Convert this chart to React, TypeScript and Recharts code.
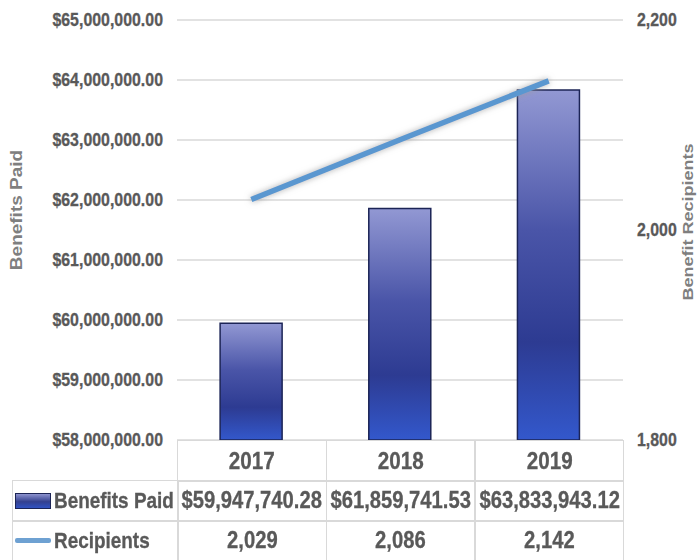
import React from "react";
import { ComposedChart, Bar, Line, XAxis, YAxis, CartesianGrid } from "recharts";

const years = ["2017", "2018", "2019"];
const benefitsPaid = [59947740.28, 61859741.53, 63833943.12];
const recipients = [2029, 2086, 2142];
const paidTicks = [58000000, 59000000, 60000000, 61000000, 62000000, 63000000, 64000000, 65000000];
const recipientTicks = [1800, 2000, 2200];

const W = 698;
const H = 560;
const PLOT_LEFT = 177;
const PLOT_RIGHT = 623;
const PLOT_TOP = 20;
const PLOT_BOTTOM = 440;
const COL_W = (PLOT_RIGHT - PLOT_LEFT) / years.length;

const TEXT = "#595959";
const GRID = "#d9d9d9";
const LINE = "#5a97d0";
const FONT = '"Liberation Sans", Arial, sans-serif';
const SQUEEZE = 0.86;

const money = (v: number) =>
  "$" + v.toLocaleString("en-US", { minimumFractionDigits: 2, maximumFractionDigits: 2 });
const count = (v: number) => v.toLocaleString("en-US");

const data = years.map((year, i) => ({ year, paid: benefitsPaid[i], recipients: recipients[i] }));

const TickText = ({ x, y, anchor, children }: any) => (
  <text
    transform={`translate(${x},${y}) scale(${SQUEEZE},1)`}
    textAnchor={anchor}
    dominantBaseline="central"
    fontFamily={FONT}
    fontWeight={700}
    fontSize={18.5}
    fill={TEXT}
    stroke={TEXT}
    strokeWidth={0.3}
  >
    {children}
  </text>
);

const LeftTick = (props: any) => (
  <TickText x={props.x} y={props.y} anchor="end">
    {money(props.payload.value)}
  </TickText>
);

const RightTick = (props: any) => (
  <TickText x={props.x} y={props.y} anchor="start">
    {count(props.payload.value)}
  </TickText>
);

const AxisTitle = ({ x, y, text, size = 19 }: { x: number; y: number; text: string; size?: number }) => (
  <text
    transform={`translate(${x},${y}) scale(${SQUEEZE},1) rotate(-90)`}
    textAnchor="middle"
    dominantBaseline="central"
    fontFamily={FONT}
    fontWeight={700}
    fontSize={size}
    fill="#7f7f7f"
  >
    {text}
  </text>
);

const Squeezed = ({ children, origin = "center", size = 23.5 }: any) => (
  <span
    style={{
      display: "inline-block",
      whiteSpace: "nowrap",
      fontSize: size,
      fontWeight: 700,
      WebkitTextStroke: `0.3px ${TEXT}`,
      transform: `scaleX(${SQUEEZE})`,
      transformOrigin: origin,
      flexShrink: 0,
    }}
  >
    {children}
  </span>
);

const cellBase: React.CSSProperties = {
  position: "absolute",
  boxSizing: "border-box",
  border: `1.5px solid ${GRID}`,
  display: "flex",
  alignItems: "center",
  justifyContent: "center",
  overflow: "visible",
};

const rows = [
  { label: "Benefits Paid", values: benefitsPaid.map(money), swatch: "bar" },
  { label: "Recipients", values: recipients.map(count), swatch: "line" },
];

const DataTable = () => (
  <div style={{ position: "absolute", left: 0, top: 0, fontFamily: FONT, fontWeight: 700, color: TEXT }}>
    {years.map((y, i) => (
      <div
        key={y}
        style={{ ...cellBase, left: PLOT_LEFT + i * COL_W, top: 440, width: COL_W + 1.5, height: 41.5 }}
      >
        <Squeezed size={24}>{y}</Squeezed>
      </div>
    ))}
    {rows.map((r, ri) => {
      const top = 480 + ri * 40;
      return (
        <React.Fragment key={r.label}>
          <div
            style={{
              ...cellBase,
              left: 12,
              top,
              width: PLOT_LEFT - 12 + 1.5,
              height: 41.5,
              justifyContent: "flex-start",
              paddingLeft: 2,
            }}
          >
            {r.swatch === "bar" ? (
              <div
                style={{
                  width: 36,
                  height: 16,
                  flexShrink: 0,
                  boxSizing: "border-box",
                  border: "1px solid #1c2456",
                  background: "linear-gradient(#8d93cf, #34408f 55%, #3152c2)",
                  marginRight: 3,
                }}
              />
            ) : (
              <div
                style={{
                  width: 36,
                  height: 5,
                  flexShrink: 0,
                  borderRadius: 2,
                  background: "#6ea1d2",
                  marginRight: 3,
                }}
              />
            )}
            <Squeezed origin="left center" size={22}>
              {r.label}
            </Squeezed>
          </div>
          {r.values.map((v, i) => (
            <div
              key={i}
              style={{ ...cellBase, left: PLOT_LEFT + i * COL_W, top, width: COL_W + 1.5, height: 41.5 }}
            >
              <Squeezed>{v}</Squeezed>
            </div>
          ))}
        </React.Fragment>
      );
    })}
  </div>
);

export default function App() {
  return (
    <div style={{ position: "absolute", left: 0, top: 0, width: W, height: H, background: "#fff" }}>
      <ComposedChart
        width={W}
        height={H}
        data={data}
        margin={{ top: PLOT_TOP, right: 0, left: 0, bottom: 0 }}
        barCategoryGap="29%"
      >
        <defs>
          <linearGradient id="barFill" x1="0" y1="0" x2="0" y2="1">
            <stop offset="0%" stopColor="#9298d3" />
            <stop offset="40%" stopColor="#4a55a8" />
            <stop offset="72%" stopColor="#2d3b92" />
            <stop offset="100%" stopColor="#3358cc" />
          </linearGradient>
          <filter id="lineGlow" x="-10%" y="-30%" width="120%" height="160%">
            <feGaussianBlur in="SourceAlpha" stdDeviation="3" result="blur" />
            <feFlood floodColor="#9a9a9a" floodOpacity="0.8" result="grey" />
            <feComposite in="grey" in2="blur" operator="in" result="halo" />
            <feMerge>
              <feMergeNode in="halo" />
              <feMergeNode in="SourceGraphic" />
            </feMerge>
          </filter>
        </defs>
        <CartesianGrid yAxisId="paid" vertical={false} stroke={GRID} strokeWidth={1.5} />
        <XAxis dataKey="year" height={H - PLOT_BOTTOM} tick={false} axisLine={false} tickLine={false} />
        <YAxis
          yAxisId="paid"
          orientation="left"
          width={PLOT_LEFT}
          domain={[58000000, 65000000]}
          ticks={paidTicks}
          tick={<LeftTick />}
          tickSize={0}
          tickMargin={14}
          axisLine={false}
          tickLine={false}
        />
        <YAxis
          yAxisId="rec"
          orientation="right"
          width={W - PLOT_RIGHT}
          domain={[1800, 2200]}
          ticks={recipientTicks}
          tick={<RightTick />}
          tickSize={0}
          tickMargin={14}
          axisLine={false}
          tickLine={false}
        />
        <Bar
          yAxisId="paid"
          dataKey="paid"
          fill="url(#barFill)"
          stroke="#1c2456"
          strokeWidth={1.5}
          isAnimationActive={false}
        />
        <Line
          yAxisId="rec"
          dataKey="recipients"
          stroke={LINE}
          strokeWidth={5.5}
          dot={false}
          activeDot={false}
          filter="url(#lineGlow)"
          isAnimationActive={false}
        />
      </ComposedChart>
      <svg width={W} height={H} style={{ position: "absolute", left: 0, top: 0, pointerEvents: "none" }}>
        <AxisTitle x={16} y={210} text="Benefits Paid" />
        <AxisTitle x={688} y={222} size={18} text="Benefit Recipients" />
      </svg>
      <DataTable />
    </div>
  );
}
